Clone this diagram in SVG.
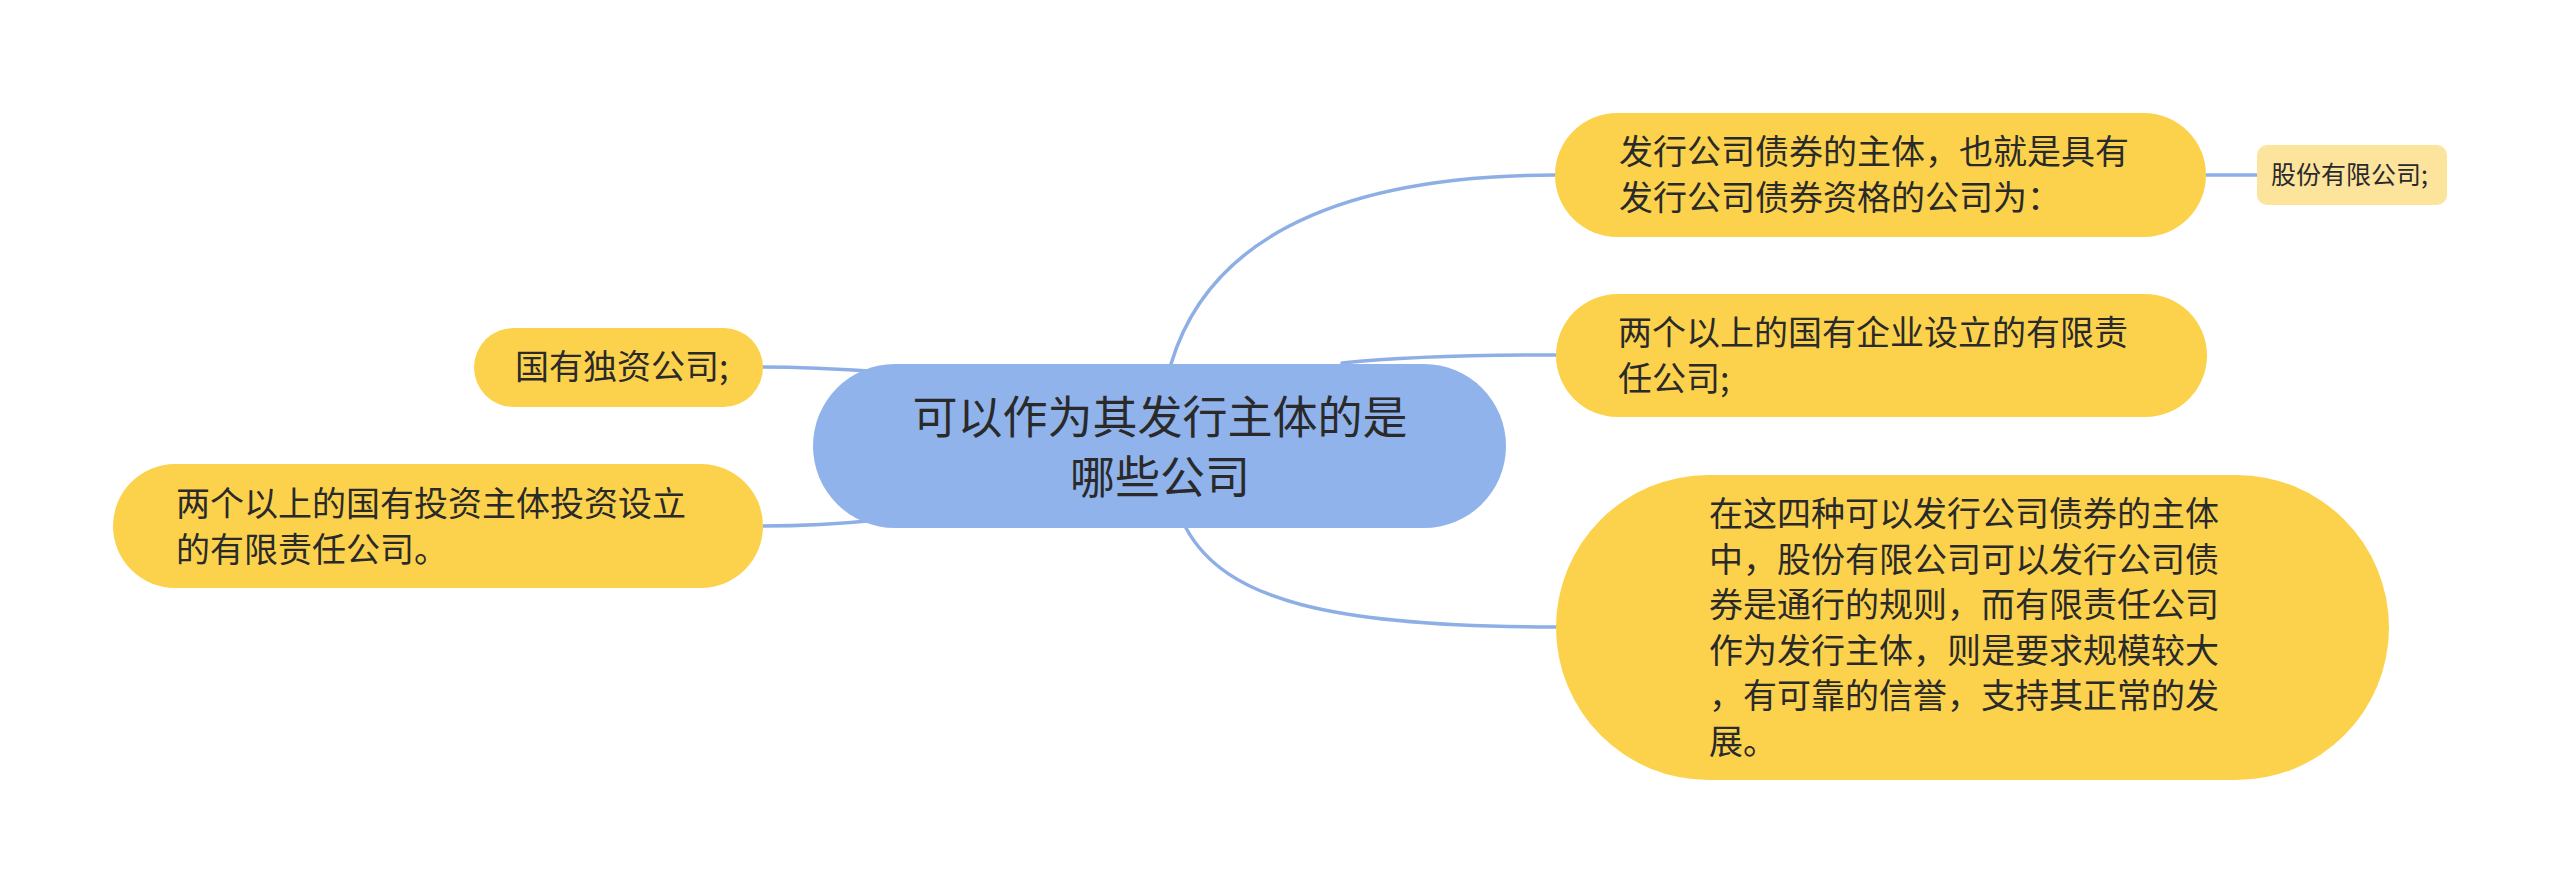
<svg xmlns="http://www.w3.org/2000/svg" width="2560" height="893" viewBox="0 0 2560 893">
<style>
.edge{fill:none;stroke:#8eafe6;stroke-width:3.5;stroke-linecap:round}
.main{fill:#90b3ec}
.sub{fill:#fcd24d}
.leaf{fill:#fde49c}
text{font-family:"Noto Sans CJK SC","Noto Sans",sans-serif;fill:#2a2a2a}
.t45{font-size:45px}
.t34{font-size:34px}
.t25{font-size:25px}
</style>
<rect width="2560" height="893" fill="#ffffff"/>
<g id="connectors">
<path class="edge" d="M1171 364 C1205 250 1320 175 1556 175"/>
<path class="edge" d="M1342 363 C1400 357 1460 355 1556 355"/>
<path class="edge" d="M1186 528 C1225 600 1330 627 1556 627"/>
<path class="edge" d="M762 367 C805 367 840 369 882 372"/>
<path class="edge" d="M762 526 C805 526 840 524 878 520"/>
<path class="edge" d="M2206 175 L2257 175"/>
</g>
<g id="center">
<rect class="main" x="813" y="364" width="693" height="164" rx="82"/>
<text class="t45" x="1160" y="434" text-anchor="middle">可以作为其发行主体的是</text>
<text class="t45" x="1160" y="494" text-anchor="middle">哪些公司</text>
</g>
<g id="nodeA">
<rect class="sub" x="1555" y="113" width="651" height="124" rx="62"/>
<text class="t34" x="1619" y="164">发行公司债券的主体，也就是具有</text>
<text class="t34" x="1619" y="210">发行公司债券资格的公司为：</text>
</g>
<g id="nodeA1">
<rect class="leaf" x="2257" y="145" width="190" height="60" rx="10"/>
<text class="t25" x="2271" y="184">股份有限公司;</text>
</g>
<g id="nodeB">
<rect class="sub" x="1556" y="294" width="651" height="123" rx="61.5"/>
<text class="t34" x="1618" y="345">两个以上的国有企业设立的有限责</text>
<text class="t34" x="1618" y="391">任公司;</text>
</g>
<g id="nodeC">
<rect class="sub" x="1556" y="475" width="833" height="305" rx="152.5"/>
<text class="t34" x="1709" y="526">在这四种可以发行公司债券的主体</text>
<text class="t34" x="1709" y="572">中，股份有限公司可以发行公司债</text>
<text class="t34" x="1709" y="617">券是通行的规则，而有限责任公司</text>
<text class="t34" x="1709" y="663">作为发行主体，则是要求规模较大</text>
<text class="t34" x="1709" y="708">，有可靠的信誉，支持其正常的发</text>
<text class="t34" x="1709" y="754">展。</text>
</g>
<g id="nodeD">
<rect class="sub" x="474" y="328" width="289" height="79" rx="39.5"/>
<text class="t34" x="515" y="379">国有独资公司;</text>
</g>
<g id="nodeE">
<rect class="sub" x="113" y="464" width="650" height="124" rx="62"/>
<text class="t34" x="176" y="516">两个以上的国有投资主体投资设立</text>
<text class="t34" x="176" y="562">的有限责任公司。</text>
</g>
</svg>
